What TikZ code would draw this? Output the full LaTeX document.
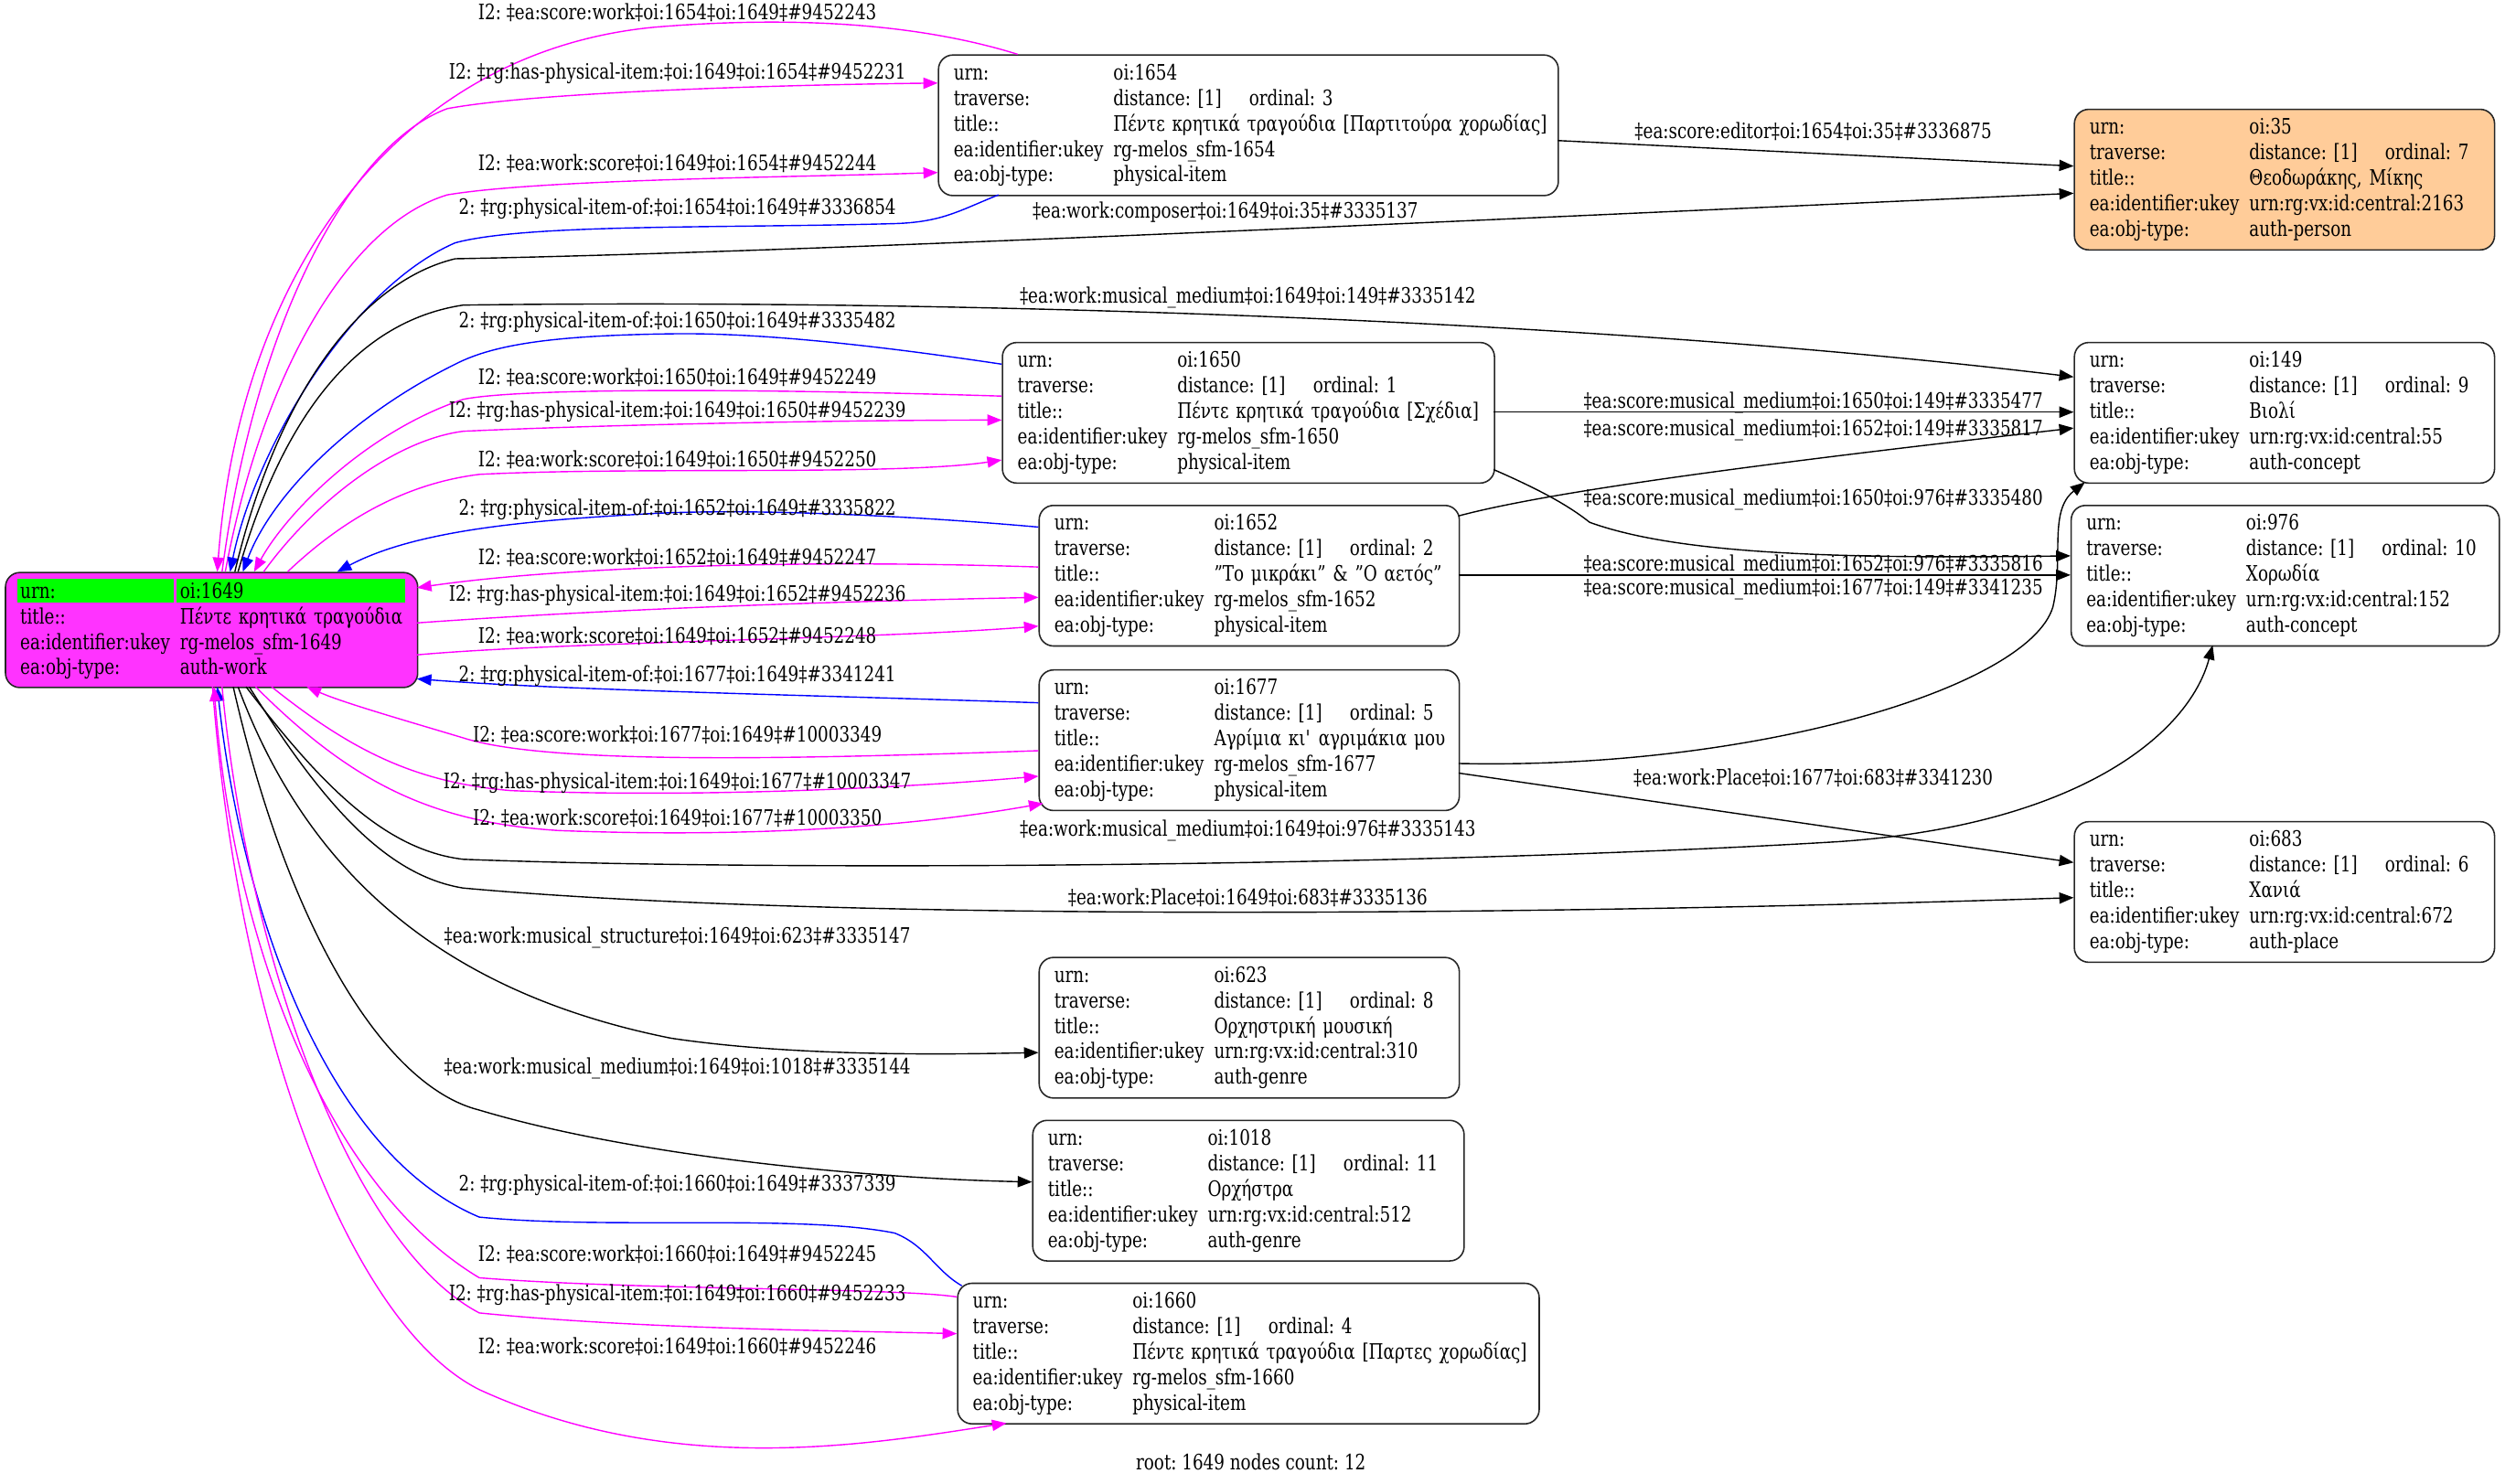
\documentclass[tikz,border=0pt]{standalone}
\usepackage{fontspec}
\setmainfont{DejaVu Serif}[FakeStretch=0.79]
\usetikzlibrary{arrows.meta,calc}
\definecolor{mag}{HTML}{FF00FF}
\definecolor{blu}{HTML}{0000FF}
\definecolor{rootfill}{HTML}{FF33FF}
\definecolor{grn}{HTML}{00FF00}
\definecolor{peach}{HTML}{FFCC99}
\newcommand{\tabrow}[2]{\mbox{\makebox[100pt][l]{#1}#2}}
\newcommand{\travrow}[1]{\mbox{\makebox[100pt][l]{traverse:}\makebox[85pt][l]{distance: [1]}ordinal: #1}}
\tikzset{
  every node/.style={font=\fontsize{13.3}{16}\selectfont\frenchspacing},
  rec/.style={draw=black!85, line width=0.9pt, rounded corners=9pt, anchor=north west, inner xsep=9.5pt, inner ysep=0pt, align=left},
  lbl/.style={inner sep=0pt, anchor=base},
  ed/.style={line width=0.8pt, -{Triangle[length=9pt,width=7pt]}},
  mg/.style={ed, draw=mag},
  bl/.style={ed, draw=blu},
  bk/.style={ed, draw=black}
}
\begin{document}
\begin{tikzpicture}[x=1pt,y=-1pt]
\useasboundingbox (0,0) rectangle (1568,929);

% ---------------- nodes ----------------
\node[rec, fill=rootfill, minimum width=258pt, minimum height=72pt, inner sep=0pt] (root) at (3,358) {};
\fill[grn] (11,362.5) rectangle (109,377);
\fill[grn] (110.6,362.5) rectangle (253.5,377);
\node[anchor=north west, text width=239pt, inner xsep=9.5pt, inner ysep=0pt, minimum height=72pt, align=left] (roottxt) at ([yshift=-0.8pt]root.north west)
 {\tabrow{urn:}{oi:1649}\\\tabrow{title::}{Πέντε κρητικά τραγούδια}\\\tabrow{ea:identifier:ukey}{rg-melos\_sfm-1649}\\\tabrow{ea:obj-type:}{auth-work}};

\node[rec, text width=369pt, minimum height=88pt] (n1654) at (587,34)
 {\tabrow{urn:}{oi:1654}\\\travrow{3}\\\tabrow{title::}{Πέντε κρητικά τραγούδια [Παρτιτούρα χορωδίας]}\\\tabrow{ea:identifier:ukey}{rg-melos\_sfm-1654}\\\tabrow{ea:obj-type:}{physical-item}};
\node[rec, fill=peach, text width=244pt, minimum height=88pt] (n35) at (1298,68)
 {\tabrow{urn:}{oi:35}\\\travrow{7}\\\tabrow{title::}{Θεοδωράκης, Μίκης}\\\tabrow{ea:identifier:ukey}{urn:rg:vx:id:central:2163}\\\tabrow{ea:obj-type:}{auth-person}};
\node[rec, text width=289pt, minimum height=88pt] (n1650) at (627,214)
 {\tabrow{urn:}{oi:1650}\\\travrow{1}\\\tabrow{title::}{Πέντε κρητικά τραγούδια [Σχέδια]}\\\tabrow{ea:identifier:ukey}{rg-melos\_sfm-1650}\\\tabrow{ea:obj-type:}{physical-item}};
\node[rec, text width=244pt, minimum height=88pt] (n149) at (1298,214)
 {\tabrow{urn:}{oi:149}\\\travrow{9}\\\tabrow{title::}{Βιολί}\\\tabrow{ea:identifier:ukey}{urn:rg:vx:id:central:55}\\\tabrow{ea:obj-type:}{auth-concept}};
\node[rec, text width=244pt, minimum height=88pt] (n1652) at (650,316)
 {\tabrow{urn:}{oi:1652}\\\travrow{2}\\\tabrow{title::}{"Το μικράκι" \& "Ο αετός"}\\\tabrow{ea:identifier:ukey}{rg-melos\_sfm-1652}\\\tabrow{ea:obj-type:}{physical-item}};
\node[rec, text width=249pt, minimum height=88pt] (n976) at (1296,316)
 {\tabrow{urn:}{oi:976}\\\travrow{10}\\\tabrow{title::}{Χορωδία}\\\tabrow{ea:identifier:ukey}{urn:rg:vx:id:central:152}\\\tabrow{ea:obj-type:}{auth-concept}};
\node[rec, text width=244pt, minimum height=88pt] (n1677) at (650,419)
 {\tabrow{urn:}{oi:1677}\\\travrow{5}\\\tabrow{title::}{Αγρίμια κι\textquotesingle{} αγριμάκια μου}\\\tabrow{ea:identifier:ukey}{rg-melos\_sfm-1677}\\\tabrow{ea:obj-type:}{physical-item}};
\node[rec, text width=244pt, minimum height=88pt] (n683) at (1298,514)
 {\tabrow{urn:}{oi:683}\\\travrow{6}\\\tabrow{title::}{Χανιά}\\\tabrow{ea:identifier:ukey}{urn:rg:vx:id:central:672}\\\tabrow{ea:obj-type:}{auth-place}};
\node[rec, text width=244pt, minimum height=88pt] (n623) at (650,599)
 {\tabrow{urn:}{oi:623}\\\travrow{8}\\\tabrow{title::}{Ορχηστρική μουσική}\\\tabrow{ea:identifier:ukey}{urn:rg:vx:id:central:310}\\\tabrow{ea:obj-type:}{auth-genre}};
\node[rec, text width=251pt, minimum height=88pt] (n1018) at (646,701)
 {\tabrow{urn:}{oi:1018}\\\travrow{11}\\\tabrow{title::}{Ορχήστρα}\\\tabrow{ea:identifier:ukey}{urn:rg:vx:id:central:512}\\\tabrow{ea:obj-type:}{auth-genre}};
\node[rec, text width=345pt, minimum height=88pt] (n1660) at (599,803)
 {\tabrow{urn:}{oi:1660}\\\travrow{4}\\\tabrow{title::}{Πέντε κρητικά τραγούδια [Παρτες χορωδίας]}\\\tabrow{ea:identifier:ukey}{rg-melos\_sfm-1660}\\\tabrow{ea:obj-type:}{physical-item}};

\node[lbl] (footer) at (783,920.5) {root: 1649 nodes count: 12};

% ---------------- edges ----------------
% top of root
\draw[mg] ($(n1654.north west)+(50,0)$) .. controls (560,10) and (470,12) .. (410,17) .. controls (250,32) and (150,170) .. ($(root.north west)+(133,0)$);
\draw[mg] ($(root.north west)+(136,0)$) .. controls (160,200) and (220,90) .. (280,68) .. controls (340,57) and (500,53) .. ($(n1654.north west)+(0,18)$);
\draw[mg] ($(root.north west)+(138,0)$) .. controls (165,230) and (220,140) .. (280,122) .. controls (340,112) and (500,111) .. ($(n1654.north west)+(0,74)$);
\draw[bl] ($(n1654.north west)+(38,88)$) .. controls (600,132) and (590,139) .. (560,140) .. controls (450,143) and (330,140) .. (285,152) .. controls (220,180) and (160,280) .. ($(root.north west)+(141,0)$);
\draw[bk] ($(root.north west)+(144,0)$) .. controls (175,240) and (230,175) .. (285,162) .. controls (500,158) and (900,139) .. ($(n35.north west)+(0,53)$);
\draw[bk] ($(n1654.north west)+(388,54)$) -- ($(n35.north west)+(0,36)$);
\draw[bk] ($(root.north west)+(146,0)$) .. controls (180,250) and (230,200) .. (290,191) .. controls (600,187) and (1000,200) .. ($(n149.north west)+(0,22)$);
\draw[bl] ($(n1650.north west)+(0,14)$) .. controls (560,218) and (480,208) .. (420,209) .. controls (350,210) and (310,215) .. (285,228) .. controls (220,260) and (170,310) .. ($(root.north west)+(149,0)$);
\draw[mg] ($(n1650.north west)+(0,34)$) .. controls (500,244) and (330,242) .. (290,250) .. controls (230,270) and (180,320) .. ($(root.north west)+(156,0)$);
\draw[mg] ($(root.north west)+(162,0)$) .. controls (200,310) and (250,275) .. (290,270) .. controls (400,265) and (550,263) .. ($(n1650.north west)+(0,49)$);
\draw[mg] ($(root.north west)+(177,0)$) .. controls (220,320) and (260,302) .. (300,297) .. controls (400,292) and (560,298) .. ($(n1650.north west)+(0,74)$);
\draw[bl] ($(n1652.north west)+(0,14)$) .. controls (560,322) and (460,318) .. (400,322) .. controls (330,326) and (260,332) .. ($(root.north west)+(208,0)$);

% right side of root
\draw[mg] ($(n1652.north west)+(0,39)$) .. controls (500,350) and (350,355) .. ($(root.north west)+(258,10)$);
\draw[mg] ($(root.north west)+(258,32)$) .. controls (400,380) and (550,376) .. ($(n1652.north west)+(0,58)$);
\draw[mg] ($(root.north west)+(258,52)$) .. controls (350,402) and (550,400) .. ($(n1652.north west)+(0,76)$);
\draw[bl] ($(n1677.north west)+(0,21)$) .. controls (500,435) and (350,432) .. ($(root.north west)+(258,67)$);

% bottom of root
\draw[mg] ($(n1677.north west)+(0,51)$) .. controls (480,476) and (340,478) .. (290,462) .. controls (250,450) and (215,440) .. ($(root.north west)+(189,72)$);
\draw[mg] ($(root.north west)+(167,72)$) .. controls (220,470) and (260,490) .. (320,495) .. controls (450,500) and (580,492) .. ($(n1677.north west)+(0,67)$);
\draw[mg] ($(root.north west)+(157,72)$) .. controls (220,490) and (270,515) .. (350,520) .. controls (480,525) and (580,516) .. ($(n1677.north west)+(3,84)$);
\draw[bk] ($(root.north west)+(151,72)$) .. controls (200,490) and (240,532) .. (290,538) .. controls (500,546) and (900,542) .. (1150,527) .. controls (1300,517) and (1370,460) .. ($(n976.north west)+(89,88)$);
\draw[bk] ($(root.north west)+(153,72)$) .. controls (200,500) and (240,548) .. (290,556) .. controls (500,575) and (900,575) .. ($(n683.north west)+(0,48)$);
\draw[bk] ($(root.north west)+(146,72)$) .. controls (190,540) and (270,620) .. (420,650) .. controls (500,662) and (600,660) .. ($(n623.north west)+(0,60)$);
\draw[bk] ($(root.north west)+(143,72)$) .. controls (180,580) and (240,680) .. (300,695) .. controls (400,725) and (550,738) .. ($(n1018.north west)+(0,39)$);
\draw[bl] ($(n1660.north west)+(3,2)$) .. controls (585,795) and (580,780) .. (560,772) .. controls (500,760) and (380,770) .. (300,762) .. controls (200,720) and (150,560) .. ($(root.north west)+(133,72)$);
\draw[mg] ($(n1660.north west)+(0,9)$) .. controls (560,806) and (400,808) .. (300,800) .. controls (200,740) and (145,580) .. ($(root.north west)+(131,72)$);
\draw[mg] ($(root.north west)+(136,72)$) .. controls (155,600) and (220,780) .. (300,822) .. controls (400,832) and (520,833) .. ($(n1660.north west)+(0,32)$);
\draw[mg] ($(root.north west)+(130,72)$) .. controls (150,650) and (220,830) .. (300,870) .. controls (420,925) and (540,905) .. ($(n1660.north west)+(31,88)$);

% between right columns
\draw[bk] ($(n1650.north west)+(308,44)$) -- ($(n149.north west)+(0,44)$);
\draw[bk] ($(n1652.north west)+(263,7)$) .. controls (980,305) and (1150,285) .. ($(n149.north west)+(0,54)$);
\draw[bk] ($(n1650.north west)+(308,80)$) .. controls (960,305) and (980,315) .. (995,327) .. controls (1050,347) and (1150,350) .. ($(n976.north west)+(0,32)$);
\draw[bk] ($(n1652.north west)+(263,44)$) -- ($(n976.north west)+(0,44)$);
\draw[bk] ($(n1677.north west)+(263,59)$) .. controls (1100,482) and (1270,430) .. (1285,380) .. controls (1292,350) and (1282,320) .. ($(n149.north west)+(7,88)$);
\draw[bk] ($(n1677.north west)+(263,65)$) -- ($(n683.north west)+(0,26)$);

% ---------------- labels ----------------
\node[lbl] (l1) at (424,12.5) {I2: ‡ea:score:work‡oi:1654‡oi:1649‡\#9452243};
\node[lbl] (l2) at (424,49.5) {I2: ‡rg:has-physical-item:‡oi:1649‡oi:1654‡\#9452231};
\node[lbl] (l3) at (424,106.5) {I2: ‡ea:work:score‡oi:1649‡oi:1654‡\#9452244};
\node[lbl] (l4) at (424,134.5) {2: ‡rg:physical-item-of:‡oi:1654‡oi:1649‡\#3336854};
\node[lbl] (l5) at (767,136.5) {‡ea:work:composer‡oi:1649‡oi:35‡\#3335137};
\node[lbl] (l6) at (1135,86.5) {‡ea:score:editor‡oi:1654‡oi:35‡\#3336875};
\node[lbl] (l7) at (781,189.5) {‡ea:work:musical\_medium‡oi:1649‡oi:149‡\#3335142};
\node[lbl] (l8) at (424,205.5) {2: ‡rg:physical-item-of:‡oi:1650‡oi:1649‡\#3335482};
\node[lbl] (l9) at (424,240.5) {I2: ‡ea:score:work‡oi:1650‡oi:1649‡\#9452249};
\node[lbl] (l10) at (424,261.5) {I2: ‡rg:has-physical-item:‡oi:1649‡oi:1650‡\#9452239};
\node[lbl] (l11) at (424,292.5) {I2: ‡ea:work:score‡oi:1649‡oi:1650‡\#9452250};
\node[lbl] (l12) at (1135,255.5) {‡ea:score:musical\_medium‡oi:1650‡oi:149‡\#3335477};
\node[lbl] (l13) at (1135,272.5) {‡ea:score:musical\_medium‡oi:1652‡oi:149‡\#3335817};
\node[lbl] (l14) at (1135,316.5) {‡ea:score:musical\_medium‡oi:1650‡oi:976‡\#3335480};
\node[lbl] (l15) at (1135,357.5) {‡ea:score:musical\_medium‡oi:1652‡oi:976‡\#3335816};
\node[lbl] (l16) at (1135,372.5) {‡ea:score:musical\_medium‡oi:1677‡oi:149‡\#3341235};
\node[lbl] (l17) at (424,322.5) {2: ‡rg:physical-item-of:‡oi:1652‡oi:1649‡\#3335822};
\node[lbl] (l18) at (424,353.5) {I2: ‡ea:score:work‡oi:1652‡oi:1649‡\#9452247};
\node[lbl] (l19) at (424,376.5) {I2: ‡rg:has-physical-item:‡oi:1649‡oi:1652‡\#9452236};
\node[lbl] (l20) at (424,402.5) {I2: ‡ea:work:score‡oi:1649‡oi:1652‡\#9452248};
\node[lbl] (l21) at (424,426.5) {2: ‡rg:physical-item-of:‡oi:1677‡oi:1649‡\#3341241};
\node[lbl] (l22) at (424,464.5) {I2: ‡ea:score:work‡oi:1677‡oi:1649‡\#10003349};
\node[lbl] (l23) at (424,493.5) {I2: ‡rg:has-physical-item:‡oi:1649‡oi:1677‡\#10003347};
\node[lbl] (l24) at (424,516.5) {I2: ‡ea:work:score‡oi:1649‡oi:1677‡\#10003350};
\node[lbl] (l25) at (781,523.5) {‡ea:work:musical\_medium‡oi:1649‡oi:976‡\#3335143};
\node[lbl] (l26) at (1135,491.5) {‡ea:work:Place‡oi:1677‡oi:683‡\#3341230};
\node[lbl] (l27) at (781,566.5) {‡ea:work:Place‡oi:1649‡oi:683‡\#3335136};
\node[lbl] (l28) at (424,590.5) {‡ea:work:musical\_structure‡oi:1649‡oi:623‡\#3335147};
\node[lbl] (l29) at (424,672.5) {‡ea:work:musical\_medium‡oi:1649‡oi:1018‡\#3335144};
\node[lbl] (l30) at (424,745.5) {2: ‡rg:physical-item-of:‡oi:1660‡oi:1649‡\#3337339};
\node[lbl] (l31) at (424,789.5) {I2: ‡ea:score:work‡oi:1660‡oi:1649‡\#9452245};
\node[lbl] (l32) at (424,814.5) {I2: ‡rg:has-physical-item:‡oi:1649‡oi:1660‡\#9452233};
\node[lbl] (l33) at (424,847.5) {I2: ‡ea:work:score‡oi:1649‡oi:1660‡\#9452246};
\end{tikzpicture}
\end{document}
